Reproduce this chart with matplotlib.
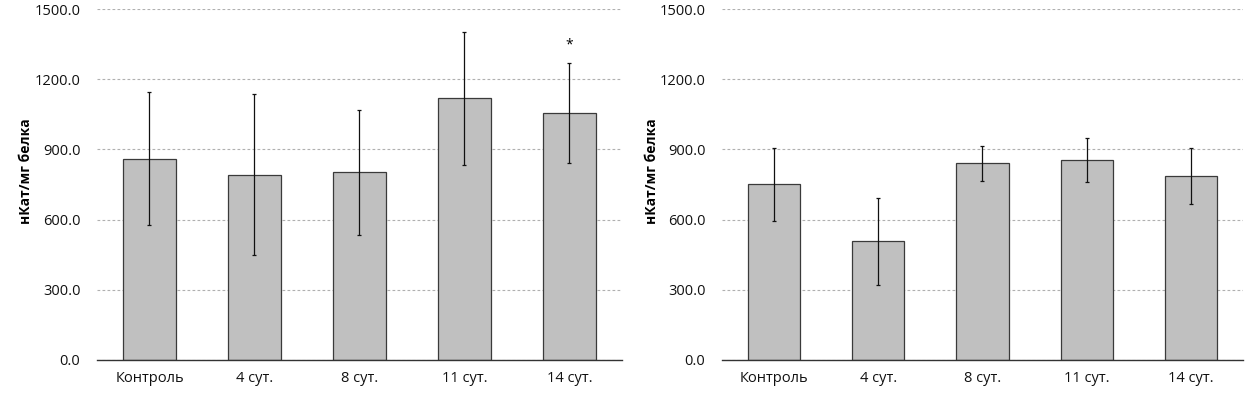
import matplotlib
matplotlib.use('Agg')
import matplotlib.pyplot as plt
from matplotlib.ticker import FormatStrFormatter

plt.rcParams['font.family'] = ['Open Sans', 'DejaVu Sans']

# categories on both panels
groups = ['Контроль', '4 сут.', '8 сут.', '11 сут.', '14 сут.']

# left panel: means and error half-widths
left_means = [860, 792, 802, 1118, 1056]
left_errs = [285, 343, 268, 283, 213]
left_marks = ['', '', '', '', '*']

# right panel
right_means = [751, 507, 840, 853, 785]
right_errs = [157, 185, 75, 94, 120]
right_marks = ['', '', '', '', '']

y_ticks = [0, 300, 600, 900, 1200, 1500]
y_label = 'нКат/мг белка'


def draw_panel(ax, means, errs, marks, label_x):
    x = range(len(groups))
    ax.bar(x, means, width=0.5, color='#c0c0c0', edgecolor='#3a3a3a',
           linewidth=0.9, zorder=2)
    ax.errorbar(x, means, yerr=errs, fmt='none', ecolor='#111111',
                elinewidth=0.9, capsize=1.5, capthick=0.9, zorder=3)
    for i, m in enumerate(marks):
        if m:
            ax.text(i, means[i] + errs[i] + 45, m, ha='center', va='bottom',
                    fontsize=10)
    ax.set_xlim(-0.5, len(groups) - 0.5)
    ax.set_ylim(0, 1500)
    ax.set_yticks(y_ticks)
    ax.yaxis.set_major_formatter(FormatStrFormatter('%.1f'))
    ax.set_xticks(list(x))
    ax.set_xticklabels(groups)
    ax.tick_params(axis='both', length=0, labelsize=10.5, colors='#111111')
    ax.tick_params(axis='x', pad=8)
    ax.tick_params(axis='y', pad=12)
    ax.grid(axis='y', linestyle=(0, (2.5, 2)), color='#b0b0b0', linewidth=0.8,
            zorder=0)
    ax.set_axisbelow(True)
    for s in ['top', 'right', 'left']:
        ax.spines[s].set_visible(False)
    ax.spines['bottom'].set_color('#333333')
    ax.spines['bottom'].set_linewidth(1.0)
    ax.set_ylabel(y_label, fontsize=10, fontweight='bold')
    ax.yaxis.set_label_coords(label_x, 0.538)


fig = plt.figure(figsize=(12.58, 3.93), dpi=100)
ax1 = fig.add_axes([0.0771, 0.084, 0.4173, 0.893])
ax2 = fig.add_axes([0.574, 0.084, 0.414, 0.893])

draw_panel(ax1, left_means, left_errs, left_marks, -0.122)
draw_panel(ax2, right_means, right_errs, right_marks, -0.121)

fig.savefig('out.png', dpi=100)
